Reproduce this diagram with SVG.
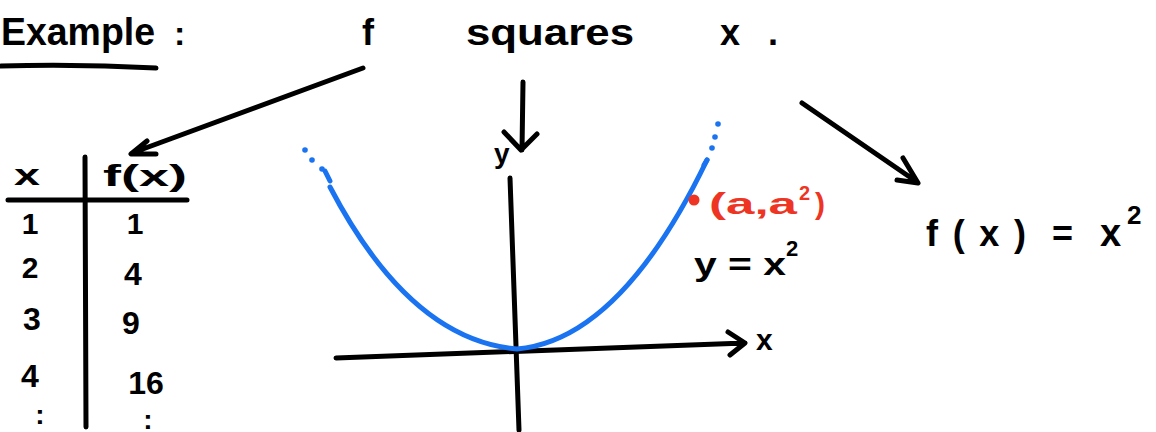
<svg xmlns="http://www.w3.org/2000/svg" width="1156" height="432" viewBox="0 0 1156 432">
<style>
text{font-family:"Liberation Sans","DejaVu Sans",sans-serif;fill:#000;font-weight:bold}
.ink{fill:none;stroke:#000;stroke-width:5;stroke-linecap:round;stroke-linejoin:round}
.blue{fill:none;stroke:#1a73f0;stroke-width:5;stroke-linecap:round;stroke-linejoin:round}
.bdot{fill:#1a73f0}
.red{fill:#ee3524}
text.r{fill:#ee3524}
</style>
<rect width="1156" height="432" fill="#fff"/>
<g id="title">
<text x="1" y="45" font-size="38" textLength="154" lengthAdjust="spacingAndGlyphs">Example</text>
<path class="ink" d="M1,66 Q80,64 156,68"/>
<text x="174" y="45" font-size="34">:</text>
</g>
<g id="f-label"><text x="362" y="45" font-size="36">f</text></g>
<g id="squares"><text x="466" y="45" font-size="36" textLength="168" lengthAdjust="spacingAndGlyphs">squares</text></g>
<g id="x-label"><text x="720" y="45" font-size="36" textLength="58" lengthAdjust="spacing">x.</text></g>
<g id="connectors">
<path class="ink" d="M363,68 L132,153 M147,141 L131,154 L156,154"/>
<path class="ink" d="M523,82 L522,150 M504,132 L521,150 L537,134"/>
<path class="ink" d="M802,103 L917,182 M903,158 L918,183 L897,180"/>
</g>
<g id="table">
<path class="ink" d="M85,157 L86,427 M8,200 L187,200"/>
<text x="14" y="185" font-size="30" textLength="26" lengthAdjust="spacingAndGlyphs">x</text>
<text x="103" y="186" font-size="30" textLength="84" lengthAdjust="spacingAndGlyphs">f(x)</text>
<text x="30" y="234" font-size="30" text-anchor="middle">1</text>
<text x="135" y="234" font-size="30" text-anchor="middle">1</text>
<text x="30" y="278" font-size="30" text-anchor="middle">2</text>
<text x="133" y="285" font-size="32" text-anchor="middle">4</text>
<text x="32" y="330" font-size="32" text-anchor="middle">3</text>
<text x="131" y="334" font-size="32" text-anchor="middle">9</text>
<text x="30" y="387" font-size="32" text-anchor="middle">4</text>
<text x="146" y="394" font-size="32" text-anchor="middle">16</text>
<text x="40" y="424" font-size="28" text-anchor="middle">:</text>
<text x="148" y="429" font-size="28" text-anchor="middle">:</text>
</g>
<g id="graph">
<path class="ink" d="M510,178 L519,430"/>
<path class="ink" d="M336,358 L745,343 M728,332 L745,343 L730,355"/>
<text x="494" y="163" font-size="28">y</text>
<text x="756" y="350" font-size="30">x</text>
<path class="blue" d="M330,187 Q410,340 517,349 Q620,340 707,160"/>
<path class="blue" d="M325,171 L330,181 M704,165 L707,160"/>
<circle class="bdot" cx="305" cy="150" r="2.8"/>
<circle class="bdot" cx="312" cy="160" r="2.8"/>
<circle class="bdot" cx="322" cy="169" r="2.8"/>
<circle class="bdot" cx="712" cy="148" r="2.8"/>
<circle class="bdot" cx="715" cy="137" r="2.8"/>
<circle class="bdot" cx="718" cy="124" r="2.8"/>
<circle class="red" cx="694" cy="200" r="5.5"/>
<text class="r" x="709" y="214" font-size="30" textLength="88" lengthAdjust="spacingAndGlyphs">(a,a</text>
<text class="r" x="799" y="200" font-size="20">2</text>
<text class="r" x="815" y="214" font-size="30">)</text>
<text x="694" y="275" font-size="32" textLength="92" lengthAdjust="spacingAndGlyphs">y = x</text>
<text x="786" y="256" font-size="22">2</text>
</g>
<g id="formula">
<text x="926" y="246" font-size="36" textLength="100" lengthAdjust="spacing">f(x)</text>
<text x="1052" y="246" font-size="36">=</text>
<text x="1100" y="246" font-size="38">x</text>
<text x="1127" y="224" font-size="26">2</text>
</g>
</svg>
